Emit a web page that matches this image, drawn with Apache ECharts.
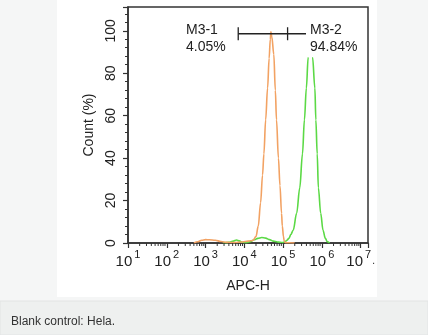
<!DOCTYPE html>
<html><head><meta charset="utf-8">
<script src="https://cdn.jsdelivr.net/npm/echarts@6/dist/echarts.min.js"></script>
<style>html,body{margin:0;padding:0;background:#f5f6f6;}#c{width:428px;height:335px;}</style>
</head><body><div id="c"></div>
<script>
// x values are log10(APC-H) decades, y values are Count (%)
const orangeLog   = [2.70,2.80,2.90,3.00,3.10,3.25,3.40,3.55,3.75,3.95,4.10,4.22,4.30,4.36,4.42,4.47,4.505,4.55,4.60,4.64,4.67,4.686,4.71,4.76,4.80,4.83,4.88,4.92,4.96,4.98,5.01,5.03,5.06,5.15,5.30];
const orangeCount = [0,0.6,1.3,1.6,1.5,1.3,0.7,0.3,0.2,0.5,0.9,1.2,3,8,19,32,42,58,73,87,96,99.5,97,89,72,58,40,27,14,8,3,0.8,0.2,0.1,0];
const greenLog    = [3.45,3.60,3.72,3.80,3.87,3.95,4.05,4.15,4.25,4.35,4.45,4.55,4.65,4.75,4.85,4.93,4.98,5.05,5.10,5.15,5.20,5.26,5.35,5.43,5.50,5.55,5.60,5.647,5.70,5.76,5.82,5.845,5.88,5.91,5.97,6.03,6.09,6.14,6.20];
const greenCount  = [0,0.3,0.9,1.4,1.0,0.3,0.2,0.6,1.5,2.2,2.6,2.3,1.6,0.9,0.5,0.3,0.2,0.6,1.3,2.2,4,6,14,26,42,58,73,87.5,99,87.5,73,58,42,26,14,6,2.2,0.6,0];
const gateBounds  = [3.843, 5.116, 6.3];
const gateLevel   = [98.6];
const gateNames   = ['M3-1', 'M3-2'];
const gatePercents= ['4.05%', '94.84%'];
const xDecades    = [1,2,3,4,5,6,7];
const yTicks      = [0,20,40,60,80,100];
const minorFactors= [2,3,4,5,6,7,8,9];
const xName = 'APC-H', yName = 'Count (%)', caption = 'Blank control: Hela.';

const FONT = "'Liberation Sans', Arial, sans-serif";
const TXT = '#222';
const minorTicks = [];
xDecades.slice(0, -1).forEach(d => minorFactors.forEach(f => minorTicks.push([d + Math.log10(f), 0])));

const chart = echarts.init(document.getElementById('c'));
chart.setOption({
  backgroundColor: '#f5f6f6',
  animation: false,
  textStyle: { fontFamily: FONT },
  grid: { left: 128, right: 60, top: 7, bottom: 92, show: true, borderColor: '#333', borderWidth: 1.5, backgroundColor: 'transparent' },
  xAxis: {
    type: 'value', min: 1, max: 7.19, interval: 1,
    axisLine: { lineStyle: { color: '#333', width: 1.5 } },
    axisTick: { length: 5, lineStyle: { color: '#333', width: 1.2 } },
    splitLine: { show: false },
    axisLabel: {
      margin: 6, color: TXT,
      formatter: v => {
        const r = Math.round(v * 1000) / 1000;
        if (!Number.isInteger(r) || xDecades.indexOf(r) < 0) return '';
        return '{b|10}{s|' + r + '}' + (r === 7 ? '{d|.}' : '');
      },
      rich: {
        b: { fontSize: 15, lineHeight: 15, color: TXT, fontFamily: FONT, padding: [10, 0, 0, 0] },
        s: { fontSize: 11, lineHeight: 11, color: TXT, fontFamily: FONT, verticalAlign: 'top', padding: [0, 0, 0, 2] },
        d: { fontSize: 10, lineHeight: 15, color: TXT, fontFamily: FONT, padding: [10, 0, 0, 1] }
      }
    },
    name: xName, nameLocation: 'middle', nameGap: 36,
    nameTextStyle: { fontSize: 14, color: TXT, fontFamily: FONT }
  },
  yAxis: {
    type: 'value', min: 0, max: 111.2, interval: 20,
    axisLine: { show: true, lineStyle: { color: '#333', width: 1.5 } },
    axisTick: { show: true, length: 5, lineStyle: { color: '#333', width: 1.2 } },
    minorTick: { show: true, splitNumber: 5, length: 3, lineStyle: { color: '#333', width: 1 } },
    splitLine: { show: false },
    axisLabel: {
      rotate: 90, margin: 10, color: TXT, fontSize: 14,
      formatter: v => (yTicks.indexOf(Math.round(v * 100) / 100) >= 0 ? String(v) : '')
    },
    name: yName, nameLocation: 'middle', nameGap: 32,
    nameTextStyle: { fontSize: 14, color: TXT, fontFamily: FONT }
  },
  series: [
    {
      type: 'custom', clip: false, silent: true, z: 3,
      data: minorTicks, encode: { x: 0, y: 1 },
      renderItem: (params, api) => {
        const p = api.coord([api.value(0), 0]);
        return { type: 'line', shape: { x1: p[0], y1: p[1], x2: p[0], y2: p[1] + 3 }, style: { stroke: '#333', lineWidth: 1 } };
      }
    },
    {
      type: 'line', name: 'green', showSymbol: false, smooth: 0.35, smoothMonotone: 'x', z: 2,
      lineStyle: { color: '#5bd945', width: 1.6 }, itemStyle: { color: '#5bd945' },
      data: greenLog.map((x, i) => [x, greenCount[i]])
    },
    {
      type: 'line', name: 'orange', showSymbol: false, smooth: 0.35, smoothMonotone: 'x', z: 2,
      lineStyle: { color: '#f2a263', width: 1.6 }, itemStyle: { color: '#f2a263' },
      data: orangeLog.map((x, i) => [x, orangeCount[i]])
    },
    {
      type: 'custom', clip: false, silent: true, z: 4,
      data: [[gateBounds[0], gateLevel[0]]], encode: { x: 0, y: 1 },
      renderItem: (params, api) => {
        const y = api.value(1);
        const pts = gateBounds.map(b => api.coord([b, y]));
        const children = [{ type: 'line', shape: { x1: pts[0][0], y1: pts[0][1], x2: pts[pts.length - 1][0], y2: pts[0][1] }, style: { stroke: '#222', lineWidth: 1.3 } }];
        pts.forEach(p => children.push({ type: 'line', shape: { x1: p[0], y1: p[1] - 6.5, x2: p[0], y2: p[1] + 6.5 }, style: { stroke: '#222', lineWidth: 1.3 } }));
        return { type: 'group', children };
      }
    }
  ],
  graphic: [
    { type: 'rect', z: -10, shape: { x: 57, y: 0, width: 320, height: 297 }, style: { fill: '#ffffff' } },
    { type: 'rect', z: -10, shape: { x: 0, y: 301, width: 428, height: 34 }, style: { fill: '#eef0ef', stroke: '#e2e4e4', lineWidth: 1 } },
    { type: 'text', z: 100, x: 186, y: 22, style: { text: gateNames[0] + '\n' + gatePercents[0], font: '14px ' + FONT, fill: TXT, lineHeight: 16.5 } },
    { type: 'text', z: 100, x: 306, y: 22, style: { text: gateNames[1] + '\n' + gatePercents[1], font: '14px ' + FONT, fill: TXT, lineHeight: 16.5, backgroundColor: '#ffffff', padding: [0, 1, 2, 4] } },
    { type: 'text', z: 100, x: 11, y: 316, style: { text: caption, font: '12px ' + FONT, fill: '#333' } }
  ]
});
</script></body></html>
